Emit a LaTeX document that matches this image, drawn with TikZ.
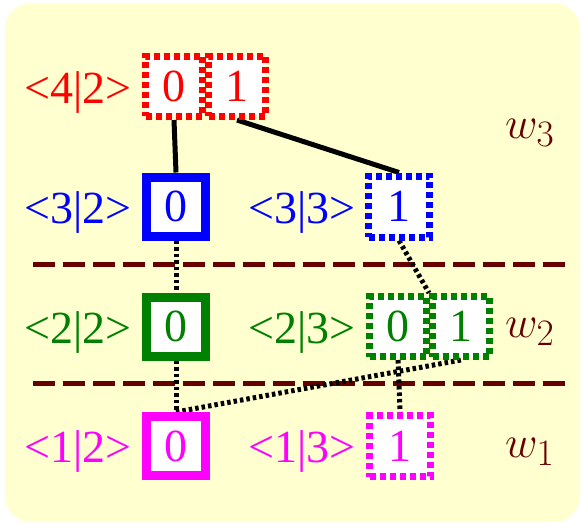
\documentclass[tikz,border=0pt]{standalone}
\usepackage{graphicx}
\usepackage{fontspec}
\setmainfont{Liberation Serif}
\usetikzlibrary{backgrounds}
\definecolor{bgyellow}{HTML}{FFFFD0}
\definecolor{myred}{HTML}{FF0000}
\definecolor{myblue}{HTML}{0000FF}
\definecolor{mygreen}{HTML}{008000}
\definecolor{mymag}{HTML}{FF00FF}
\definecolor{maroon}{HTML}{660000}
\newcommand{\wsym}[1]{\scalebox{1.8}{\fontsize{24.88}{30}\selectfont$w_{#1}$}}
\tikzset{
  txt/.style={font=\fontsize{46}{52}\selectfont, inner sep=0pt},
  lbl/.style={txt, anchor=base east},
  wlbl/.style={inner sep=0pt, anchor=base west, text=maroon},
  boxbase/.style={txt, draw, fill=white, text depth=0pt},
  solidbox/.style={boxbase, line width=9pt, minimum width=59pt, minimum height=59pt},
  dotbox/.style={boxbase, line width=7pt, dash pattern=on 6pt off 4pt, minimum width=61pt, minimum height=61pt},
  pairbox/.style={boxbase, line width=7pt, dash pattern=on 6pt off 4pt, minimum width=57pt, minimum height=60pt},
  solidedge/.style={line width=5pt, black},
  dotedge/.style={line width=5pt, black, dash pattern=on 3.5pt off 3pt},
  sep/.style={line width=5pt, maroon, dash pattern=on 22pt off 8pt}
}
\begin{document}
\begin{tikzpicture}[x=1pt,y=-1pt]
\useasboundingbox (0,0) rectangle (583,524);
% row 4 (red)
\node[pairbox, draw=myred, text=myred] (r0) at (174,86.5) {0};
\node[pairbox, draw=myred, text=myred] (r1) at (237,86.5) {1};
\node[lbl, text=myred] (l42) at (132,103) {<4|2>};
% row 3 (blue)
\node[solidbox, draw=myblue, text=myblue] (b0) at (176,206.5) {0};
\node[dotbox, draw=myblue, text=myblue] (b1) at (399,206.5) {1};
\node[lbl, text=myblue] (l32) at (132,223) {<3|2>};
\node[lbl, text=myblue] (l33) at (356,223) {<3|3>};
% row 2 (green)
\node[solidbox, draw=mygreen, text=mygreen] (g0l) at (176,326.5) {0};
\node[pairbox, draw=mygreen, text=mygreen] (g0) at (398,326.5) {0};
\node[pairbox, draw=mygreen, text=mygreen] (g1) at (461,326.5) {1};
\node[lbl, text=mygreen] (l22) at (132,343) {<2|2>};
\node[lbl, text=mygreen] (l23) at (356,343) {<2|3>};
% row 1 (magenta)
\node[solidbox, draw=mymag, text=mymag] (m0) at (176,446) {0};
\node[dotbox, draw=mymag, text=mymag] (m1) at (400,446) {1};
\node[lbl, text=mymag] (l12) at (132,462.5) {<1|2>};
\node[lbl, text=mymag] (l13) at (356,462.5) {<1|3>};
% w labels
\node[wlbl] (w3) at (505,138) {\wsym{3}};
\node[wlbl] (w2) at (505,337) {\wsym{2}};
\node[wlbl] (w1) at (505,457) {\wsym{1}};
% separators
\coordinate (s1a) at (33,264);
\coordinate (s1b) at (565,264);
\coordinate (s2a) at (33,383);
\coordinate (s2b) at (565,383);
\begin{scope}[on background layer]
  \fill[bgyellow, rounded corners=26pt] (5,3) rectangle (580,522);
  \draw[sep] (s1a) -- (s1b);
  \draw[sep] (s2a) -- (s2b);
  \draw[solidedge] (r0.south) -- (b0.north);
  \draw[solidedge] (r1.south) -- (b1.north);
  \draw[dotedge] (b0.south) -- (g0l.north);
  \draw[dotedge] (b1.south) -- (g1.north west);
  \draw[dotedge] (g0l.south) -- (m0.north);
  \draw[dotedge] (m0.north) -- (g1.south);
  \draw[dotedge] (g0.south) -- (m1.north);
\end{scope}
\end{tikzpicture}
\end{document}
